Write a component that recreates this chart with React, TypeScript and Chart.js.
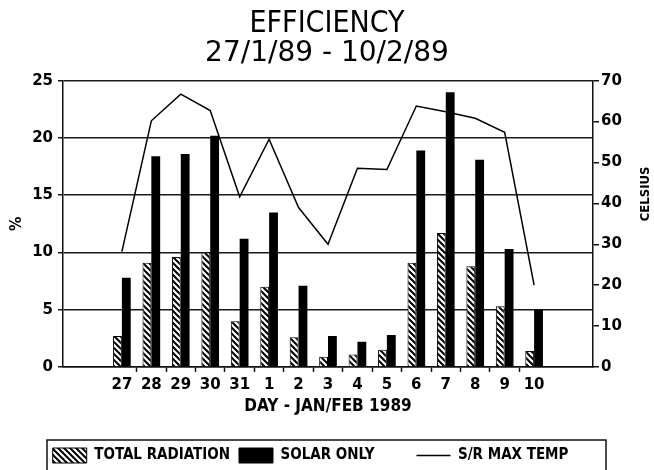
import React, { useEffect, useRef } from 'react';
import { Chart, registerables } from 'chart.js';

Chart.register(...registerables);

// ---- data ----
const DAYS = ['27', '28', '29', '30', '31', '1', '2', '3', '4', '5', '6', '7', '8', '9', '10'];
const TOTAL_RADIATION = [2.7, 9.1, 9.6, 10.0, 4.0, 7.0, 2.6, 0.9, 1.1, 1.5, 9.1, 11.7, 8.8, 5.3, 1.4];
const SOLAR_ONLY = [7.8, 18.4, 18.6, 20.2, 11.2, 13.5, 7.1, 2.7, 2.2, 2.8, 18.9, 24.0, 18.1, 10.3, 5.0];
const MAX_TEMP = [28.2, 60.2, 66.7, 62.7, 41.6, 55.7, 39.0, 30.0, 48.6, 48.3, 63.8, 62.4, 60.8, 57.4, 20.0];
const SERIES_NAMES = ['TOTAL RADIATION', 'SOLAR ONLY', 'S/R MAX TEMP'];
const TITLE = 'EFFICIENCY';
const SUBTITLE = '27/1/89 - 10/2/89';
const X_TITLE = 'DAY - JAN/FEB 1989';
const Y_TITLE = '%';
const Y1_TITLE = 'CELSIUS';

const NARROW = "'Liberation Sans Narrow', 'DejaVu Sans Condensed', 'Arial Narrow', 'Liberation Sans', sans-serif";
const DIGITS = "'DejaVu Sans', sans-serif";
const INK = '#111';

function makeHatch(): CanvasPattern | string {
  const s = 6;
  const c = document.createElement('canvas');
  c.width = s;
  c.height = s;
  const g = c.getContext('2d');
  if (!g) return '#888';
  g.fillStyle = '#fff';
  g.fillRect(0, 0, s, s);
  g.strokeStyle = '#000';
  g.lineWidth = 2;
  g.beginPath();
  g.moveTo(-1, -1);
  g.lineTo(s + 1, s + 1);
  g.moveTo(-1, s - 1);
  g.lineTo(1, s + 1);
  g.moveTo(s - 1, -1);
  g.lineTo(s + 1, 1);
  g.stroke();
  const p = g.createPattern(c, 'repeat');
  return p || '#888';
}

const extrasPlugin = {
  id: 'extras',
  afterDraw(chart: any) {
    const { ctx, chartArea } = chart;
    const y1 = chart.scales.y1;
    ctx.save();
    // right axis title, reading bottom-to-top
    ctx.fillStyle = '#000';
    ctx.font = `bold 13px ${NARROW}`;
    ctx.textAlign = 'center';
    ctx.textBaseline = 'middle';
    ctx.translate(y1.right - 8.5, (chartArea.top + chartArea.bottom) / 2 - 30);
    ctx.rotate(-Math.PI / 2);
    ctx.fillText(Y1_TITLE, 0, 0);
    ctx.restore();

    // legend frame
    const lg = chart.legend;
    if (lg && lg.legendHitBoxes && lg.legendHitBoxes.length) {
      const hb = lg.legendHitBoxes[0];
      const cy = hb.top + hb.height / 2;
      ctx.save();
      ctx.strokeStyle = INK;
      ctx.lineWidth = 1.5;
      ctx.strokeRect(chartArea.left - 16, cy - 15.5, chartArea.right - chartArea.left + 29, 40);
      ctx.restore();
    }
  },
};

export default function App() {
  const ref = useRef<HTMLCanvasElement | null>(null);

  useEffect(() => {
    if (!ref.current) return;
    const hatch = makeHatch();
    const pts = (vals: number[]) => DAYS.map((_, i) => ({ x: i, y: vals[i] }));
    const legendText = [SERIES_NAMES[0], SERIES_NAMES[1] + '       ', SERIES_NAMES[2] + '       '];

    const chart = new Chart(ref.current, {
      type: 'bar',
      data: {
        datasets: [
          {
            type: 'bar',
            label: SERIES_NAMES[0],
            data: pts(TOTAL_RADIATION),
            backgroundColor: hatch,
            borderColor: '#000',
            borderWidth: 1,
            categoryPercentage: 0.6,
            barPercentage: 1,
            yAxisID: 'y',
            order: 1,
          },
          {
            type: 'bar',
            label: SERIES_NAMES[1],
            data: pts(SOLAR_ONLY),
            backgroundColor: '#000',
            borderColor: '#000',
            borderWidth: 0,
            categoryPercentage: 0.6,
            barPercentage: 1,
            yAxisID: 'y',
            order: 1,
          },
          {
            type: 'line',
            label: SERIES_NAMES[2],
            data: pts(MAX_TEMP),
            borderColor: '#000',
            backgroundColor: '#000',
            borderWidth: 1.5,
            pointRadius: 0,
            tension: 0,
            fill: false,
            yAxisID: 'y1',
            order: 0,
          },
        ] as any,
      },
      options: {
        responsive: false,
        animation: false,
        events: [],
        layout: { padding: { left: 0, right: 0, top: 0, bottom: -3 } },
        plugins: {
          tooltip: { enabled: false },
          title: {
            display: true,
            text: TITLE,
            color: '#000',
            font: { family: NARROW, size: 30, weight: 'normal', lineHeight: 1 },
            padding: { top: 9.5, bottom: 0 },
          },
          subtitle: {
            display: true,
            text: SUBTITLE,
            color: '#000',
            font: { family: DIGITS, size: 28, weight: 'normal', lineHeight: 1 },
            padding: { top: 0, bottom: 13.2 },
          },
          legend: {
            position: 'bottom',
            align: 'center',
            labels: {
              usePointStyle: true,
              pointStyleWidth: 34,
              boxHeight: 17,
              padding: 9,
              color: '#000',
              font: { family: NARROW, size: 15, weight: 'bold' },
              sort: (a: any, b: any) => a.datasetIndex - b.datasetIndex,
              generateLabels: (ch: any) => {
                const items = (Chart as any).defaults.plugins.legend.labels.generateLabels(ch);
                return items.map((it: any) => ({
                  ...it,
                  text: legendText[it.datasetIndex],
                  pointStyle: it.datasetIndex === 2 ? 'line' : 'rect',
                  lineWidth: it.datasetIndex === 2 ? 1.5 : 1,
                  strokeStyle: '#000',
                }));
              },
            },
          },
        },
        scales: {
          x: {
            type: 'linear',
            position: 'bottom',
            min: -2,
            max: 16,
            offset: false,
            afterBuildTicks: (s: any) => {
              s.ticks = DAYS.map((_, i) => ({ value: i }));
            },
            afterFit: (s: any) => {
              s.height = 72;
            },
            grid: {
              display: true,
              drawOnChartArea: false,
              drawTicks: true,
              tickLength: 5,
              offset: true,
              tickWidth: 1.5,
              tickColor: (c: any) => (c.type === 'tick' && c.index > 0 ? INK : 'rgba(0,0,0,0)'),
            },
            border: { display: true, color: INK, width: 1.5 },
            ticks: {
              autoSkip: false,
              maxRotation: 0,
              minRotation: 0,
              padding: 4,
              color: '#000',
              font: { family: DIGITS, size: 15, weight: 'bold' },
              callback: (_v: any, i: number) => DAYS[i] ?? '',
            },
            title: {
              display: true,
              text: X_TITLE,
              color: '#000',
              font: { family: NARROW, size: 17, weight: 'bold' },
              padding: { top: 0, bottom: 22 },
            },
          },
          y: {
            type: 'linear',
            position: 'left',
            min: 0,
            max: 25,
            afterFit: (s: any) => {
              s.width = 63;
            },
            ticks: {
              stepSize: 5,
              padding: 5,
              color: '#000',
              font: { family: DIGITS, size: 15, weight: 'bold' },
            },
            grid: { color: '#1a1a1a', lineWidth: 1.5, tickLength: 5, drawTicks: true },
            border: { display: true, color: INK, width: 1.5 },
            title: {
              display: true,
              text: Y_TITLE,
              color: '#000',
              font: { family: NARROW, size: 16, weight: 'bold' },
              padding: { top: 7, bottom: 0 },
            },
          },
          y1: {
            type: 'linear',
            position: 'right',
            min: 0,
            max: 70,
            afterFit: (s: any) => {
              s.width = 61;
            },
            ticks: {
              stepSize: 10,
              padding: 2,
              color: '#000',
              font: { family: DIGITS, size: 15, weight: 'bold' },
            },
            grid: { drawOnChartArea: false, color: INK, lineWidth: 1.5, tickLength: 6 },
            border: { display: true, color: INK, width: 1.5 },
          },
        },
      } as any,
      plugins: [extrasPlugin],
    });

    return () => chart.destroy();
  }, []);

  return (
    <div style={{ position: 'absolute', left: 0, top: 0, width: 654, height: 470, background: '#fff' }}>
      <canvas ref={ref} width={654} height={470} />
    </div>
  );
}
